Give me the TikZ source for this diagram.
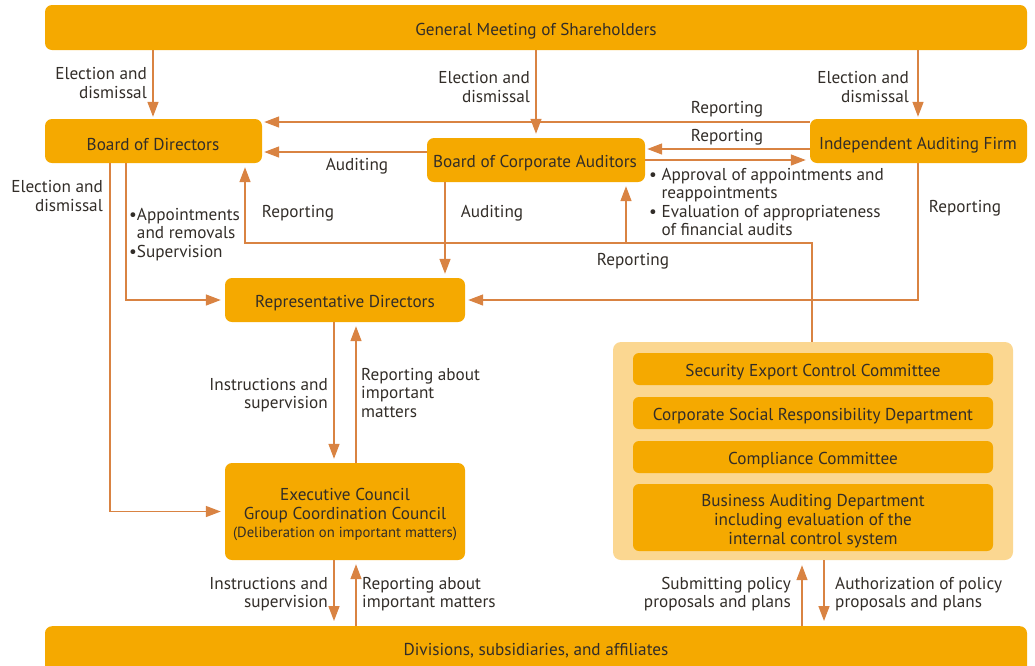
\documentclass[tikz,border=0pt]{standalone}
\usepackage{fontspec}
\setmainfont{PT Sans}
\usetikzlibrary{arrows.meta}
\definecolor{boxc}{RGB}{245,169,0}
\definecolor{panelc}{RGB}{251,215,145}
\definecolor{linec}{RGB}{217,131,66}
\definecolor{txtc}{RGB}{50,45,40}
\begin{document}
\begin{tikzpicture}[x=1pt,y=-1pt,
  box/.style={fill=boxc, rounded corners=7pt, inner sep=0pt},
  inbox/.style={box, minimum width=360pt, rounded corners=6pt},
  btxt/.style={text=txtc, align=center, inner sep=0pt, font=\fontsize{17.2}{18.7}\selectfont},
  lbl/.style={text=txtc, inner sep=0pt, font=\fontsize{17.2}{18.5}\selectfont},
  arr/.style={draw=linec, line width=1.5pt, -{Triangle[length=15pt,width=11pt]}}]
\useasboundingbox (0,0) rectangle (1035,665);
\clip (0,0) rectangle (1035,665);
% boxes
\node[box, minimum width=982pt, minimum height=45pt] (gm) at (536,27.5) {};
\node[btxt] (gmt) at (536,31) {General Meeting of Shareholders};
\node[box, minimum width=217pt, minimum height=44pt] (bod) at (153.5,141) {};
\node[btxt] (bodt) at (153,145) {Board of Directors};
\node[box, minimum width=218pt, minimum height=44pt] (bca) at (536,160) {};
\node[btxt] (bcat) at (535,163) {Board of Corporate Auditors};
\node[box, minimum width=217pt, minimum height=44pt] (iaf) at (918.5,141) {};
\node[btxt] (iaft) at (918,145) {Independent Auditing Firm};
\node[box, minimum width=240pt, minimum height=44pt] (rep) at (345,300) {};
\node[btxt] (rept) at (345,303) {Representative Directors};
\node[box, minimum width=240pt, minimum height=97pt] (exec) at (345,511.5) {};
\node[btxt] (exect) at (345,514.5) {Executive Council\\Group Coordination Council\\{\fontsize{14.7}{18.7}\selectfont(Deliberation on important matters)}};
\node[box, minimum width=982pt, minimum height=49pt, anchor=north] (div) at (536,626) {};
\node[btxt] (divt) at (536,651) {Divisions, subsidiaries, and affiliates};
\node[fill=panelc, rounded corners=8pt, minimum width=400pt, minimum height=218pt, inner sep=0pt] (panel) at (813,451) {};
\node[inbox, minimum height=32pt] (sec) at (813,369) {};
\node[btxt] (sect) at (813,372) {Security Export Control Committee};
\node[inbox, minimum height=32pt] (csr) at (813,413) {};
\node[btxt] (csrt) at (813,416) {Corporate Social Responsibility Department};
\node[inbox, minimum height=32pt] (comp) at (813,457) {};
\node[btxt] (compt) at (813,460) {Compliance Committee};
\node[inbox, minimum height=67pt] (bad) at (813,517.5) {};
\node[btxt] (badt) at (813,521) {Business Auditing Department\\including evaluation of the\\internal control system};
% arrows from general meeting
\draw[arr, shorten >=2pt] (gm.south -| 153,0) -- (bod.north -| 153,0);
\draw[arr, shorten >=4pt] (gm.south) -- (bca.north);
\draw[arr, shorten >=2pt] (gm.south -| 918,0) -- (iaf.north -| 918,0);
\node[lbl, anchor=east, align=right] (l1) at (147,83) {Election and\\dismissal};
\node[lbl, anchor=east, align=right] (l2) at (530,87) {Election and\\dismissal};
\node[lbl, anchor=east, align=right] (l3) at (909,87) {Election and\\dismissal};
% horizontal connections
\draw[arr, shorten >=2pt] (iaf.west |- 0,122) -- (bod.east |- 0,122);
\node[lbl] (l4) at (727,109) {Reporting};
\draw[arr, shorten >=2pt] (iaf.west |- 0,149) -- (bca.east |- 0,149);
\node[lbl] (l5) at (727,137) {Reporting};
\draw[arr, shorten >=2pt] (bca.west |- 0,152) -- (bod.east |- 0,152);
\node[lbl] (l6) at (357,166) {Auditing};
\draw[arr, shorten >=4pt] (bca.east |- 0,160) -- (iaf.west |- 0,160);
\node[lbl, anchor=north west, align=left] (l7) at (649,168) {• Approval of appointments and\\\hphantom{• }reappointments\\• Evaluation of appropriateness\\\hphantom{• }of financial audits};
% auditing to representative directors
\draw[arr, shorten >=4pt] (bca.south -| 445,0) -- (rep.north -| 445,0);
\node[lbl] (l8) at (492,213) {Auditing};
% reporting from internal control panel
\coordinate (rj) at (626,243);
\draw[arr, shorten >=4pt] (panel.north -| 812,0) -- (812,243) -- (rj) -- (245,243) -- (bod.south -| 245,0);
\draw[arr, shorten >=4pt] (rj) -- (bca.south -| 626,0);
\node[lbl] (l9) at (298,213) {Reporting};
\node[lbl] (l10) at (633,261) {Reporting};
% board of directors to representative directors / executive council
\draw[arr, shorten >=4pt] (bod.south -| 126,0) |- (rep.west);
\node[lbl, anchor=north west, align=left] (l11) at (129,208) {•Appointments\\\hphantom{•}and removals\\•Supervision};
\draw[arr, shorten >=4pt] (bod.south -| 110,0) |- (exec.west);
\node[lbl, anchor=east, align=right] (l12) at (103,196) {Election and\\dismissal};
% auditing firm to representative directors
\draw[arr, shorten >=3pt] (iaf.south -| 918,0) |- (rep.east);
\node[lbl] (l13) at (965,208) {Reporting};
% representative directors <-> executive council
\draw[arr, shorten >=4pt] (rep.south -| 334,0) -- (exec.north -| 334,0);
\draw[arr, shorten >=4pt] (exec.north -| 356,0) -- (rep.south -| 356,0);
\node[lbl, anchor=east, align=right] (l14) at (328,395) {Instructions and\\supervision};
\node[lbl, anchor=west, align=left] (l15) at (361,393) {Reporting about\\important\\matters};
% executive council <-> divisions
\draw[arr, shorten >=5pt] (exec.south -| 334,0) -- (div.north -| 334,0);
\draw[arr, shorten >=4pt] (div.north -| 356,0) -- (exec.south -| 356,0);
\node[lbl, anchor=east, align=right] (l16) at (328,594) {Instructions and\\supervision};
\node[lbl, anchor=west, align=left] (l17) at (362,594) {Reporting about\\important matters};
% panel <-> divisions
\draw[arr, shorten >=5pt] (div.north -| 802,0) -- (panel.south -| 802,0);
\draw[arr, shorten >=5pt] (panel.south -| 824,0) -- (div.north -| 824,0);
\node[lbl, anchor=east, align=right] (l18) at (791,594) {Submitting policy\\proposals and plans};
\node[lbl, anchor=west, align=left] (l19) at (835,594) {Authorization of policy\\proposals and plans};
\end{tikzpicture}
\end{document}
